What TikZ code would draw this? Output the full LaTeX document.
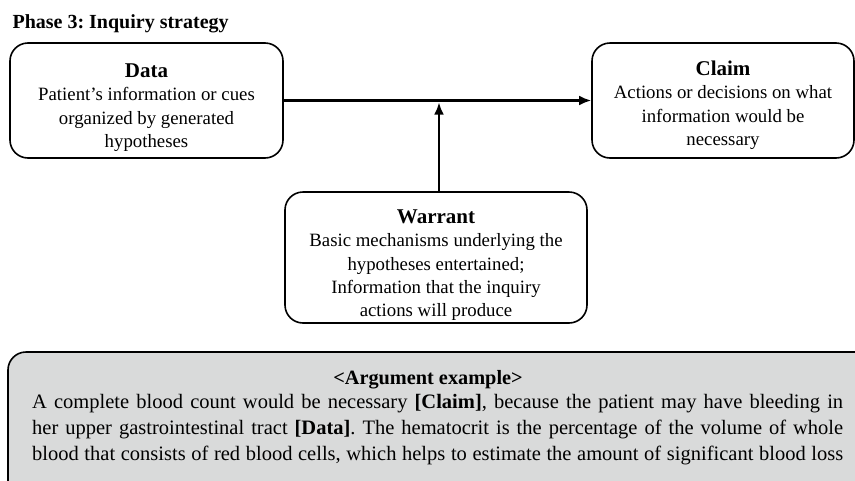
\documentclass[tikz,border=0pt]{standalone}
\usepackage{fontspec}
\setmainfont{Liberation Serif}
\usetikzlibrary{arrows.meta}
\definecolor{argfill}{RGB}{217,218,218}
\frenchspacing
% box heading, optional strut height pushes the text block down
\newcommand\boxhead[2][26pt]{\textbf{\fontsize{21}{23}\selectfont\rule{0pt}{#1}#2}}
\begin{document}
\begin{tikzpicture}[x=1pt,y=-1pt,line join=round,line cap=round,>={Latex[length=12pt,width=10pt]},
		box/.style={draw,line width=1.6pt,rounded corners=18pt,align=center,inner sep=0pt,font=\fontsize{18.8}{23.3}\selectfont}]
		\useasboundingbox (0,0) rectangle (855,480);
		\clip (0,0) rectangle (855,480);
		\node[anchor=base west,font=\bfseries\fontsize{20}{22}\selectfont] (title) at (9,28) {Phase 3: Inquiry strategy};
		% upper row
		\node[box,minimum width=273pt,minimum height=115pt] (data) at (146.5,100.5) {\boxhead[28pt]{Data}\\Patient's information or cues\\organized by generated\\hypotheses};
		\node[box,minimum width=262pt,minimum height=115pt] (claim) at (723,100.5) {\boxhead[24pt]{Claim}\\Actions or decisions on what\\information would be\\necessary};
		\node[box,minimum width=302pt,minimum height=131pt] (warrant) at (436,257.5) {\boxhead[29pt]{Warrant}\\Basic mechanisms underlying the\\hypotheses entertained;\\Information that the inquiry\\actions will produce};
		\draw[->,line width=2.6pt,line cap=butt] (data.east) -- (claim.west);
		\coordinate (meet) at ([xshift=3pt]warrant.north |- data.east);
		\draw[->,line width=2.6pt,line cap=butt] ([xshift=3pt]warrant.north) -- ([yshift=-2pt]meet);
		% argument example
		\draw[line width=1.6pt,rounded corners=18pt,fill=argfill] (8,352) rectangle (880,500);
		\node[anchor=base,font=\bfseries\fontsize{20.3}{22}\selectfont] (arghead) at (428,384) {<Argument example>};
		\node[anchor=north west,inner sep=0pt,align=left,font=\fontsize{20.5}{26}\selectfont] (argtext) at (32,394) {%
			\makebox[811pt][s]{A complete blood count would be necessary \textbf{[Claim]}, because the patient may have bleeding in}\\
			\makebox[811pt][s]{her upper gastrointestinal tract \textbf{[Data]}. The hematocrit is the percentage of the volume of whole}\\
			\makebox[811pt][s]{blood that consists of red blood cells, which helps to estimate the amount of significant blood loss}};
\end{tikzpicture}
\end{document}
